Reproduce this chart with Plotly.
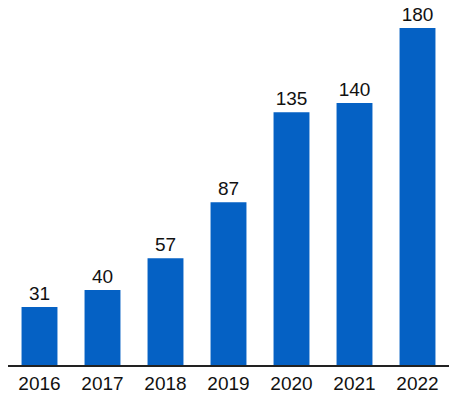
import plotly.graph_objects as go

years = ["2016", "2017", "2018", "2019", "2020", "2021", "2022"]
values = [31, 40, 57, 87, 135, 140, 180]

fig = go.Figure(go.Bar(
    x=years, y=values,
    marker=dict(color="#0561C4", line=dict(width=0)),
    text=[str(v) for v in values],
    textposition="outside",
    constraintext="none",
    textfont=dict(family="Liberation Sans, Arial", size=19, color="#111111"),
    cliponaxis=False,
))
fig.update_layout(
    width=452, height=388,
    margin=dict(l=0, r=11, t=0, b=31, autoexpand=False),
    paper_bgcolor="white", plot_bgcolor="white",
    bargap=0.43,
    showlegend=False,
    font=dict(family="Liberation Sans, Arial", size=19, color="#111111"),
    xaxis=dict(showline=True, linecolor="#222222", linewidth=1.5, ticks="",
               showgrid=False, tickfont=dict(size=19), automargin=False),
    yaxis=dict(range=[0, 190.7], visible=False, showgrid=False, automargin=False),
)
fig.write_html("out.html")
